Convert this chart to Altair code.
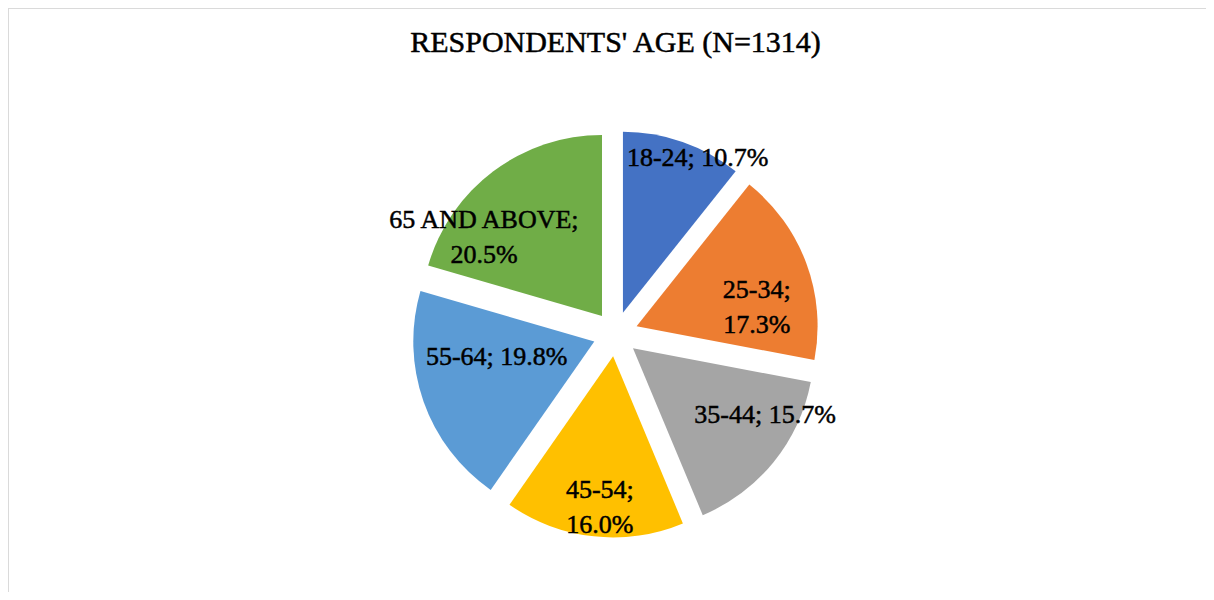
import altair as alt
import pandas as pd

# ---- data ----
categories = ["18-24", "25-34", "35-44", "45-54", "55-64", "65 AND ABOVE"]
percent = [10.7, 17.3, 15.7, 16.0, 19.8, 20.5]
title_text = "RESPONDENTS' AGE (N=1314)"

# ---- styling / layout (not data) ----
colors = ["#4472C4", "#ED7D31", "#A5A5A5", "#FFC000", "#5B9BD5", "#70AD47"]
label_two_lines = [False, True, False, True, False, True]
label_radius = [194, 148, 170, 157, 121, 174]        # px from pie centre
label_angle_shift = [5.8, 3.0, -10.7, -0.4, 8.5, -12.2]  # degrees vs slice middle

W, H = 1198, 584
CX, CY = 607.5, 326.0   # pie centre in view coordinates
R = 181                 # slice radius
EXPLODE = 22.5          # explode distance
FONT = "Liberation Serif"

df = pd.DataFrame({
    "age": categories,
    "pct": percent,
    "order": list(range(len(categories))),
    "two": label_two_lines,
    "lr": label_radius,
    "la": label_angle_shift,
})

base = alt.Chart(df).transform_window(
    cum="sum(pct)", sort=[alt.SortField("order")], frame=[None, 0]
).transform_calculate(
    t1="datum.cum / 100 * 2 * PI",
    t0="(datum.cum - datum.pct) / 100 * 2 * PI",
).transform_calculate(
    mid="(datum.t0 + datum.t1) / 2",
).transform_calculate(
    cx=f"{CX} + {EXPLODE} * sin(datum.mid)",
    cy=f"{CY} - {EXPLODE} * cos(datum.mid)",
    lx=f"{CX} + datum.lr * sin(datum.mid + datum.la * PI / 180)",
    ly=f"{CY} - datum.lr * cos(datum.mid + datum.la * PI / 180)",
    label="datum.two ? datum.age + ';\\n' + format(datum.pct, '.1f') + '%' : datum.age + '; ' + format(datum.pct, '.1f') + '%'",
)

color_scale = alt.Scale(domain=categories, range=colors)

arcs = base.mark_arc(radius=R).encode(
    x=alt.X("cx:Q", scale=None, axis=None),
    y=alt.Y("cy:Q", scale=None, axis=None),
    theta=alt.Theta("t0:Q", scale=None, stack=None),
    theta2=alt.Theta2("t1:Q"),
    color=alt.Color("age:N", scale=color_scale, legend=None),
    order=alt.Order("order:Q"),
)

labels = base.mark_text(
    font=FONT, fontSize=26, color="black", lineBreak="\n", lineHeight=35,
    align="center", baseline="middle", stroke="black", strokeWidth=0.5,
).encode(
    x=alt.X("lx:Q", scale=None, axis=None),
    y=alt.Y("ly:Q", scale=None, axis=None),
    text="label:N",
)

title = alt.Chart(pd.DataFrame({"t": [title_text]})).mark_text(
    font=FONT, fontSize=30, color="black", align="center", baseline="middle",
    stroke="black", strokeWidth=0.5,
).encode(
    x=alt.value(CX), y=alt.value(35), text="t:N"
)

frame_top = alt.Chart(pd.DataFrame({"k": [0]})).mark_rule(
    color="#d9d9d9", strokeWidth=1.5
).encode(x=alt.value(0), x2=alt.value(W), y=alt.value(0))
frame_left = alt.Chart(pd.DataFrame({"k": [0]})).mark_rule(
    color="#d9d9d9", strokeWidth=1.5
).encode(x=alt.value(0), y=alt.value(0), y2=alt.value(H))

chart = alt.layer(frame_top, frame_left, arcs, labels, title).properties(
    width=W, height=H, padding=0, autosize=alt.AutoSizeParams(type="none")
).configure_view(stroke=None).configure(background="white")

chart.save("out.html", embed_options={"renderer": "svg", "actions": False})
